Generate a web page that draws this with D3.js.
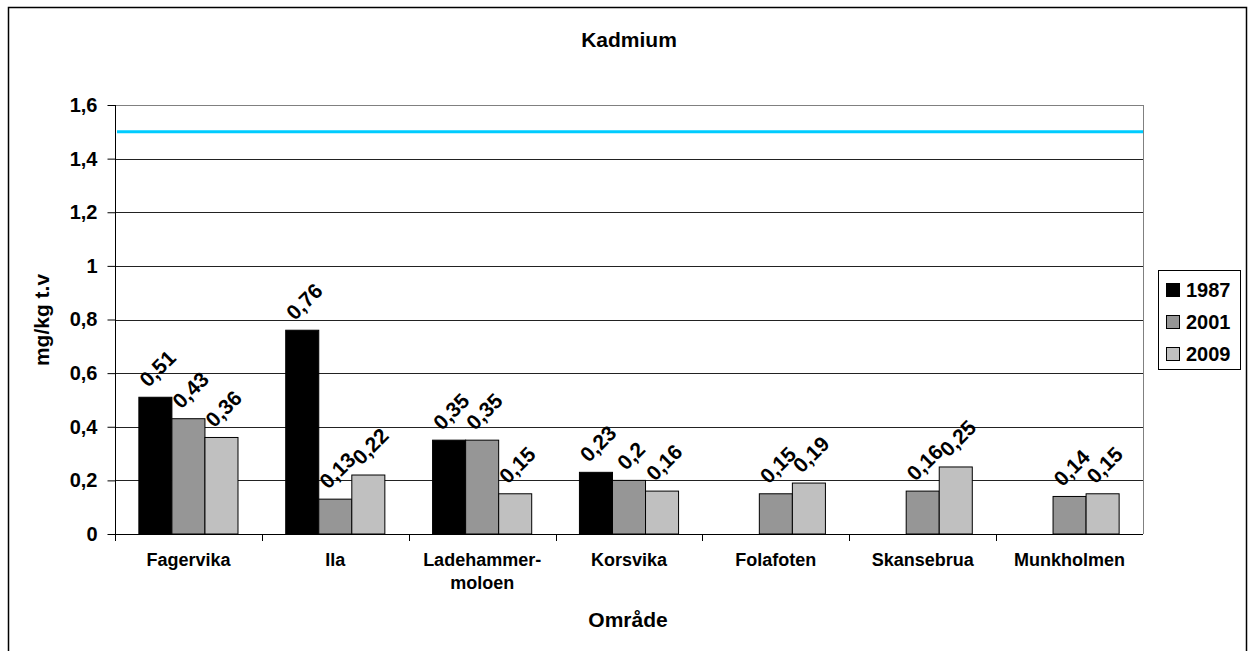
<!DOCTYPE html>
<html>
<head>
<meta charset="utf-8">
<script src="https://cdnjs.cloudflare.com/ajax/libs/d3/7.8.5/d3.min.js"></script>
<style>
  body { margin: 0; background: #fff; }
  svg { display: block; font-family: "Liberation Sans", Arial, sans-serif; font-weight: bold; }
</style>
</head>
<body>
<svg id="chart" width="1249" height="651"></svg>
<script>
var categories = ["Fagervika", "Ila", "Ladehammer-\nmoloen", "Korsvika", "Folafoten", "Skansebrua", "Munkholmen"];
var years = ["1987", "2001", "2009"];
var v1987 = [0.51, 0.76, 0.35, 0.23, null, null, null];
var v2001 = [0.43, 0.13, 0.35, 0.2, 0.15, 0.16, 0.14];
var v2009 = [0.36, 0.22, 0.15, 0.16, 0.19, 0.25, 0.15];
var yTicks = [0, 0.2, 0.4, 0.6, 0.8, 1, 1.2, 1.4, 1.6];
var limit = 1.5;

var series = [v1987, v2001, v2009];
var colors = ["#000000", "#969696", "#c0c0c0"];

var svg = d3.select("#chart"),
    pLeft = 115, pRight = 1143, pTop = 105, pBottom = 534;

// outer chart border
svg.append("rect")
  .attr("x", 8.5).attr("y", 7.5)
  .attr("width", 1238).attr("height", 700)
  .attr("fill", "none").attr("stroke", "#000").attr("stroke-width", 1.5);

var x = d3.scaleBand().domain(d3.range(categories.length)).range([pLeft, pRight]).paddingInner(0.325).paddingOuter(0.1625);
var xs = d3.scaleBand().domain(d3.range(years.length)).range([0, x.bandwidth()]);
var y = d3.scaleLinear().domain([0, 1.6]).range([pBottom, pTop]);

// gridlines
svg.append("g").selectAll("line")
  .data(yTicks.slice(1))
  .enter().append("line")
  .attr("x1", pLeft).attr("x2", pRight)
  .attr("y1", d => Math.round(y(d)) + 0.5).attr("y2", d => Math.round(y(d)) + 0.5)
  .attr("stroke", (d, i) => i == yTicks.length - 2 ? "#808080" : "#222");

svg.append("line")
  .attr("x1", pRight + 0.5).attr("x2", pRight + 0.5)
  .attr("y1", pTop).attr("y2", pBottom)
  .attr("stroke", "#808080");

// limit line
svg.append("line")
  .attr("x1", pLeft + 2).attr("x2", pRight)
  .attr("y1", y(limit)).attr("y2", y(limit))
  .attr("stroke", "#00ccff").attr("stroke-width", 3);

// bars
var groups = svg.append("g").selectAll("g")
  .data(series)
  .enter().append("g")
  .attr("fill", (d, i) => colors[i]);

groups.each(function(vals, si) {
  var g = d3.select(this);
  var pts = vals.map((v, ci) => ({v: v, ci: ci})).filter(d => d.v != null);
  g.selectAll("rect")
    .data(pts)
    .enter().append("rect")
    .attr("x", d => x(d.ci) + xs(si))
    .attr("y", d => y(d.v))
    .attr("width", xs.bandwidth())
    .attr("height", d => y(0) - y(d.v))
    .attr("stroke", "#000").attr("stroke-width", 1);

  g.selectAll("text")
    .data(pts)
    .enter().append("text")
    .attr("fill", "#000")
    .attr("font-size", 21)
    .attr("text-anchor", "middle")
    .attr("dominant-baseline", "central")
    .text(d => String(d.v).replace(".", ","))
    .attr("transform", function(d) {
      var L = this.getComputedTextLength(),
          off = 0.354 * (L + 15) + 9,
          cx = x(d.ci) + xs(si) + xs.bandwidth() / 2 + 2;
      return "translate(" + cx + "," + (y(d.v) - off) + ") rotate(-45)";
    });
});

// y axis
var yAxis = svg.append("g").attr("transform", "translate(" + (pLeft + 0.5) + ",0)")
  .call(d3.axisLeft(y).tickValues(yTicks).tickSize(8).tickPadding(10)
    .tickFormat(d => String(d).replace(".", ",")));
yAxis.selectAll("text").attr("font-size", 20).attr("fill", "#000").attr("font-family", null);
yAxis.selectAll("path, line").attr("stroke", "#000");
yAxis.select(".domain").attr("d", "M0," + pTop + "V" + (pBottom + 0.5));

// x axis
var bounds = d3.range(categories.length + 1).map(i => pLeft + i * (pRight - pLeft) / categories.length);
svg.append("line")
  .attr("x1", pLeft).attr("x2", pRight)
  .attr("y1", pBottom + 0.5).attr("y2", pBottom + 0.5)
  .attr("stroke", "#000");
svg.append("g").selectAll("line")
  .data(bounds.slice(0, -1))
  .enter().append("line")
  .attr("x1", d => Math.round(d) + 0.5).attr("x2", d => Math.round(d) + 0.5)
  .attr("y1", pBottom).attr("y2", pBottom + 7)
  .attr("stroke", "#000");

var catText = svg.append("g").selectAll("text")
  .data(categories)
  .enter().append("text")
  .attr("font-size", 18)
  .attr("text-anchor", "middle")
  .attr("transform", (d, i) => "translate(" + (x(i) + x.bandwidth() / 2) + ",566)");
catText.selectAll("tspan")
  .data(d => d.split("\n"))
  .enter().append("tspan")
  .attr("x", 0)
  .attr("dy", (d, i) => i ? 23 : 0)
  .text(d => d);

// titles
svg.append("text")
  .attr("x", 629).attr("y", 47)
  .attr("text-anchor", "middle").attr("font-size", 21)
  .text("Kadmium");

svg.append("text")
  .attr("x", 628).attr("y", 627)
  .attr("text-anchor", "middle").attr("font-size", 21)
  .text("Område");

svg.append("text")
  .attr("transform", "translate(49,320) rotate(-90)")
  .attr("text-anchor", "middle").attr("font-size", 21)
  .text("mg/kg t.v");

// legend
var legend = svg.append("g");
legend.append("rect")
  .attr("x", 1158.5).attr("y", 270.5)
  .attr("width", 82).attr("height", 99)
  .attr("fill", "#fff").attr("stroke", "#000");
var item = legend.selectAll("g.item")
  .data(years)
  .enter().append("g")
  .attr("class", "item")
  .attr("transform", (d, i) => "translate(1166," + (290 + i * 32) + ")");
item.append("rect")
  .attr("x", 0.5).attr("y", -6.5)
  .attr("width", 13).attr("height", 13)
  .attr("fill", (d, i) => colors[i]).attr("stroke", "#000");
item.append("text")
  .attr("x", 20).attr("y", 0)
  .attr("dominant-baseline", "central")
  .attr("font-size", 20)
  .text(d => d);
</script>
</body>
</html>
